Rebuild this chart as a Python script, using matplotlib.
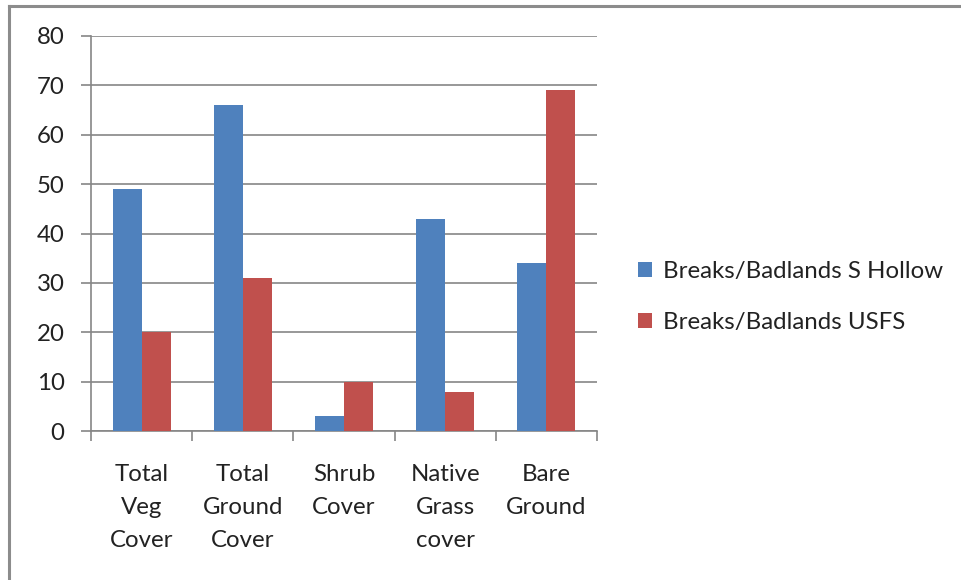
import matplotlib
matplotlib.use("Agg")
import matplotlib.pyplot as plt
from matplotlib.lines import Line2D
import numpy as np

categories = ["Total\nVeg\nCover", "Total\nGround\nCover", "Shrub\nCover", "Native\nGrass\ncover", "Bare\nGround"]
series_names = ["Breaks/Badlands S Hollow", "Breaks/Badlands USFS"]
s_hollow = [49, 66, 3, 43, 34]
usfs = [20, 31, 10, 8, 69]
yticks = [0, 10, 20, 30, 40, 50, 60, 70, 80]

plt.rcParams['font.family'] = ['Lato', 'DejaVu Sans']
W, H = 961, 580
fig = plt.figure(figsize=(W/100, H/100), dpi=100)
ax = fig.add_axes([91/W, 1-431/H, (597-91)/W, (431-36)/H])

grid_c = '#868686'
blue = '#4F81BD'
red = '#C0504D'
FS = 17.3
x = np.arange(len(categories))
bw = 1/3.5
ax.bar(x - bw/2, s_hollow, bw, color=blue, label=series_names[0], zorder=3)
ax.bar(x + bw/2, usfs, bw, color=red, label=series_names[1], zorder=3)

ax.set_xlim(-0.5, len(categories)-0.5)
ax.set_ylim(0, 80)
ax.set_yticks(yticks)
ax.set_yticklabels([str(v) for v in yticks], fontsize=FS)
ax.yaxis.grid(True, color=grid_c, lw=1.2, zorder=0)
ax.tick_params(axis='y', length=7, width=1.2, color=grid_c, pad=12, labelcolor='#222222')
ax.set_xticks(x)
ax.set_xticklabels(categories, fontsize=FS, linespacing=1.7)
ax.tick_params(axis='x', length=0, pad=24, labelcolor='#222222')
ax.set_xticks(np.arange(-0.5, len(categories)), minor=True)
ax.tick_params(axis='x', which='minor', length=7, width=1.2, color=grid_c)
for s in ['top', 'right']:
    ax.spines[s].set_visible(False)
for s in ['left', 'bottom']:
    ax.spines[s].set_color(grid_c)
    ax.spines[s].set_linewidth(1.2)

leg = fig.legend(loc='center left', bbox_to_anchor=(616/W, 1-297/H), frameon=False,
                 fontsize=FS, handlelength=0.6, handleheight=0.6, handletextpad=0.45,
                 labelspacing=1.25, labelcolor='#222222')

# outer border (left and top visible)
fig.add_artist(Line2D([9/W, 9/W], [0, 1-6/H], transform=fig.transFigure, color='#8c8c8c', lw=2.2))
fig.add_artist(Line2D([9/W, 1], [1-6/H, 1-6/H], transform=fig.transFigure, color='#8c8c8c', lw=2.2))

fig.savefig("out.png", dpi=100)
